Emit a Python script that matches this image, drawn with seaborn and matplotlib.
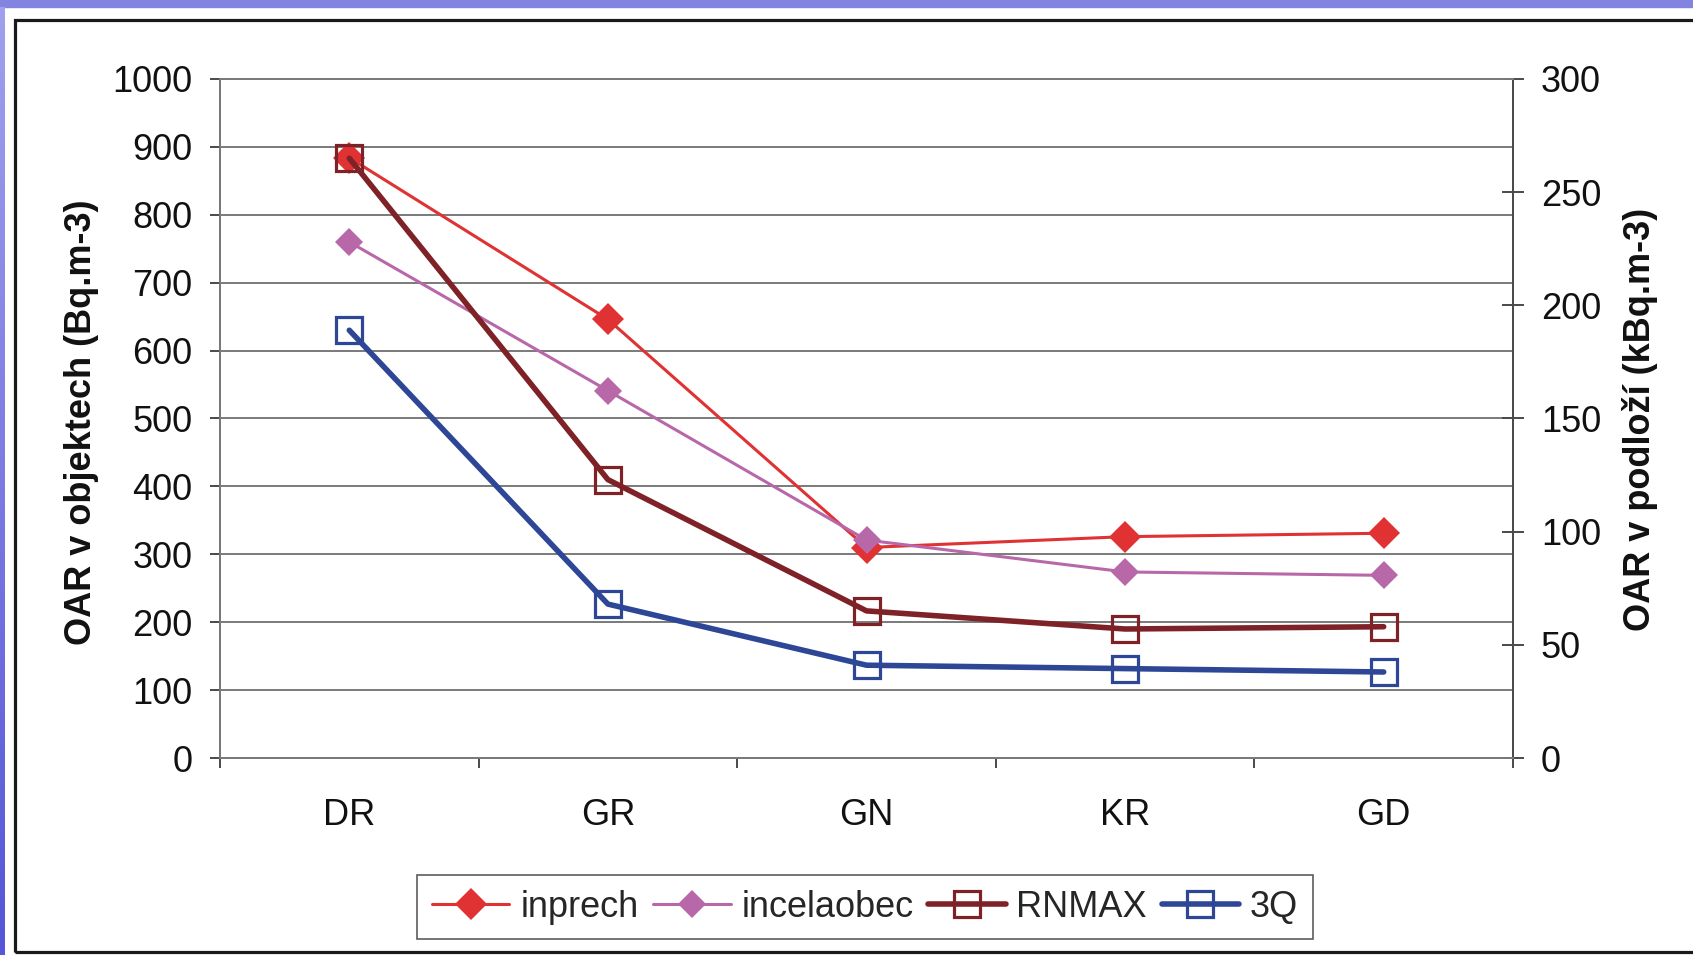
import numpy as np
import pandas as pd
import matplotlib
matplotlib.use("Agg")
import matplotlib.pyplot as plt
import matplotlib.patches as mpatches
import seaborn as sns

categories = ["DR", "GR", "GN", "KR", "GD"]
# left axis, Bq.m-3
inprech = [884, 646, 310, 326, 331]
incelaobec = [760, 541, 321, 274, 269]
# right axis, kBq.m-3
rnmax = [265, 123, 65, 57, 58]
q3 = [189, 68, 41, 39.5, 38]

left_ticks = list(range(0, 1001, 100))
right_ticks = list(range(0, 301, 50))

df = pd.DataFrame({"pos": np.arange(len(categories)), "inprech": inprech,
                   "incelaobec": incelaobec, "RNMAX": rnmax, "3Q": q3})

sns.set_theme(style="white")
plt.rcParams['font.family'] = ['Liberation Sans', 'DejaVu Sans']

fig = plt.figure(figsize=(16.93, 9.55), dpi=100)

# page decoration: purple band and chart frame
fig.patches.append(mpatches.Rectangle((0, 1 - 7 / 955), 1, 7 / 955, transform=fig.transFigure,
                                      color='#8383e0', zorder=-5))
grad = np.linspace(0, 1, 100).reshape(-1, 1)
gax = fig.add_axes([0, 0, 5 / 1693, 1 - 7 / 955])
gax.imshow(grad, aspect='auto', cmap=matplotlib.colors.LinearSegmentedColormap.from_list(
    'p', ['#5656d6', '#a0a0ee']), origin='lower')
gax.axis('off')
fig.patches.append(mpatches.Rectangle((15 / 1693, 3 / 955), 1.0, 932 / 955, transform=fig.transFigure,
                                      fill=False, edgecolor='#1a1a1a', linewidth=2.3, zorder=-4))

ax = fig.add_axes([220 / 1693, 1 - 758 / 955, 1293 / 1693, 679 / 955])
ax2 = ax.twinx()

sns.lineplot(data=df, x="pos", y="inprech", ax=ax, color='#e03232', linewidth=2.2,
             marker='D', markersize=16.5, markeredgecolor='#e03232', markeredgewidth=0, label="inprech")
sns.lineplot(data=df, x="pos", y="incelaobec", ax=ax, color='#b868a8', linewidth=2.2,
             marker='D', markersize=14, markeredgecolor='#b868a8', markeredgewidth=0, label="incelaobec")
sns.lineplot(data=df, x="pos", y="RNMAX", ax=ax2, color='#7e2228', linewidth=4,
             marker='s', markersize=19, markerfacecolor='none', markeredgecolor='#7e2228',
             markeredgewidth=2.3, label="RNMAX")
sns.lineplot(data=df, x="pos", y="3Q", ax=ax2, color='#2d4696', linewidth=4,
             marker='s', markersize=19, markerfacecolor='none', markeredgecolor='#2d4696',
             markeredgewidth=2.3, label="3Q")

ax.set_xlim(-0.5, len(categories) - 0.5)
ax.set_ylim(0, 1000)
ax2.set_ylim(0, 300)
ax.set_yticks(left_ticks)
ax2.set_yticks(right_ticks)
ax.set_xticks(df["pos"])
ax.set_xticklabels(categories)
ax.set_xticks(np.arange(-0.5, len(categories), 1), minor=True)

ax.yaxis.grid(True, color='#7a7a7a', linewidth=1.4)
ax.xaxis.grid(False)
ax2.grid(False)

for a in (ax, ax2):
    for s in a.spines.values():
        s.set_color('#7a7a7a')
        s.set_linewidth(1.4)
ax.spines['left'].set_color('#4a4a4a')
ax2.spines['right'].set_color('#4a4a4a')

ax.tick_params(axis='y', which='major', direction='out', length=7, width=1.4, color='#4a4a4a',
               pad=13, labelsize=26, labelcolor='#111111', left=True)
ax.tick_params(axis='x', which='major', length=0, pad=29, labelsize=26, labelcolor='#111111')
ax.tick_params(axis='x', which='minor', direction='out', length=7, width=1.4, color='#4a4a4a', bottom=True)
ax2.tick_params(axis='y', direction='inout', length=16, width=1.4, color='#4a4a4a',
                pad=12, labelsize=26, labelcolor='#111111', right=True)

ax.set_xlabel("")
ax.set_ylabel("OAR v objektech (Bq.m-3)", fontsize=26, fontweight='bold', color='#111111')
ax2.set_ylabel("OAR v podloží (kBq.m-3)", fontsize=26, fontweight='bold', color='#111111')
ax.yaxis.set_label_coords(-0.1075, 0.495)
ax2.yaxis.set_label_coords(1.098, 0.499)
ax.yaxis.label.set_va('center')
ax2.yaxis.label.set_va('center')

h1, l1 = ax.get_legend_handles_labels()
h2, l2 = ax2.get_legend_handles_labels()
ax.get_legend().remove()
ax2.get_legend().remove()
leg = fig.legend(h1 + h2, l1 + l2, loc='center', bbox_to_anchor=(865 / 1693, 1 - 907 / 955),
                 ncol=4, fontsize=26, frameon=True, fancybox=False, edgecolor='#333333',
                 handlelength=2.15, handletextpad=0.3, columnspacing=0.4, borderpad=0.4,
                 borderaxespad=0)
leg.get_frame().set_linewidth(1.2)

fig.savefig("out.png", dpi=100)
